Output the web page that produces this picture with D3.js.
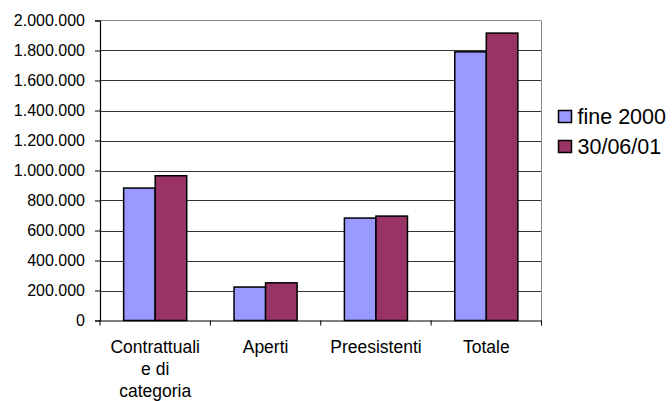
<!DOCTYPE html>
<html>
<head>
<meta charset="utf-8">
<script src="https://cdn.jsdelivr.net/npm/d3@7"></script>
<style>
  html, body { margin: 0; padding: 0; background: #fff; }
  svg { display: block; font-family: Arial, "Liberation Sans", sans-serif; }
</style>
</head>
<body>
<svg id="chart" width="672" height="401"></svg>
<script>
// ---- data ----
const categories = [["Contrattuali", "e di", "categoria"], ["Aperti"], ["Preesistenti"], ["Totale"]];
const seriesNames = ["fine 2000", "30/06/01"];
const fine2000 = [883000, 223000, 683000, 1791000];
const giu2001 = [965000, 251000, 696000, 1916000];
const yTicks = [0, 200000, 400000, 600000, 800000, 1000000, 1200000, 1400000, 1600000, 1800000, 2000000];
const colors = ["#9999FF", "#993366"];

// ---- layout ----
const svg = d3.select("#chart");
const pLeft = 100, pRight = 541.5, pTop = 20.5, pBottom = 320.5;

const catKeys = categories.map((c, i) => i);
const x = d3.scaleBand().domain(catKeys).range([pLeft, pRight]).padding(0);
const xs = d3.scaleBand().domain(seriesNames).range([0, x.bandwidth()]).paddingInner(0).paddingOuter(0.75);
const y = d3.scaleLinear().domain([0, 2000000]).range([pBottom, pTop]);

const it = d3.formatLocale({decimal: ",", thousands: ".", grouping: [3], currency: ["€", ""]});
const fmt = it.format(",d");

// gridlines
svg.append("g").selectAll("line").data(yTicks.filter(d => d > 0 && d < 2000000)).join("line")
  .attr("x1", pLeft).attr("x2", pRight)
  .attr("y1", d => Math.round(y(d)) + 0.5).attr("y2", d => Math.round(y(d)) + 0.5)
  .attr("stroke", "#333").attr("stroke-width", 1);

// plot border (top & right)
svg.append("path")
  .attr("d", `M${pLeft},${pTop}H${pRight}V${pBottom}`)
  .attr("fill", "none").attr("stroke", "#888").attr("stroke-width", 1);

// bars
const values = [fine2000, giu2001];
seriesNames.forEach((s, si) => {
  svg.append("g").selectAll("rect").data(values[si]).join("rect")
    .attr("x", (d, i) => x(i) + xs(s))
    .attr("y", d => y(d))
    .attr("width", xs.bandwidth())
    .attr("height", d => y(0) - y(d))
    .attr("fill", colors[si])
    .attr("stroke", "#000").attr("stroke-width", 1.5);
});

// y axis
const yAxis = d3.axisLeft(y).tickValues(yTicks).tickFormat(fmt).tickSize(5).tickPadding(10);
const gy = svg.append("g").attr("transform", `translate(${pLeft},0)`).call(yAxis);
gy.select(".domain").attr("stroke", "#000").attr("stroke-width", 1.2);
gy.selectAll(".tick line").attr("stroke", "#000");
gy.selectAll(".tick text").attr("font-size", 16).attr("fill", "#000")
  .attr("font-family", "Arial, 'Liberation Sans', sans-serif");

// x axis
const xAxis = d3.axisBottom(x).tickSize(0).tickFormat(() => "");
const gx = svg.append("g").attr("transform", `translate(0,${pBottom})`).call(xAxis);
gx.select(".domain").attr("stroke", "#000").attr("stroke-width", 1.2);
// category boundary ticks
const bounds = catKeys.map(i => x(i)).concat([pRight]);
svg.append("g").selectAll("line").data(bounds).join("line")
  .attr("x1", d => d).attr("x2", d => d)
  .attr("y1", pBottom).attr("y2", pBottom + 5)
  .attr("stroke", "#000").attr("stroke-width", 1);

// category labels
const lab = svg.append("g").selectAll("text").data(categories).join("text")
  .attr("x", (d, i) => x(i) + x.bandwidth() / 2)
  .attr("y", 352.5)
  .attr("text-anchor", "middle")
  .attr("font-size", 17.5).attr("fill", "#000");
lab.selectAll("tspan").data(d => d).join("tspan")
  .attr("x", function() { return this.parentNode.getAttribute("x"); })
  .attr("dy", (d, j) => j === 0 ? 0 : 22)
  .text(d => d);

// legend
const lg = svg.append("g");
seriesNames.forEach((s, si) => {
  const cy = 116.5 + si * 30;
  lg.append("rect").attr("x", 558.5).attr("y", cy - 6).attr("width", 13).attr("height", 12)
    .attr("fill", colors[si]).attr("stroke", "#000").attr("stroke-width", 1.5);
  lg.append("text").attr("x", 577.5).attr("y", cy + 7.5)
    .attr("font-size", 21.5).attr("fill", "#000").text(s);
});
</script>
</body>
</html>
